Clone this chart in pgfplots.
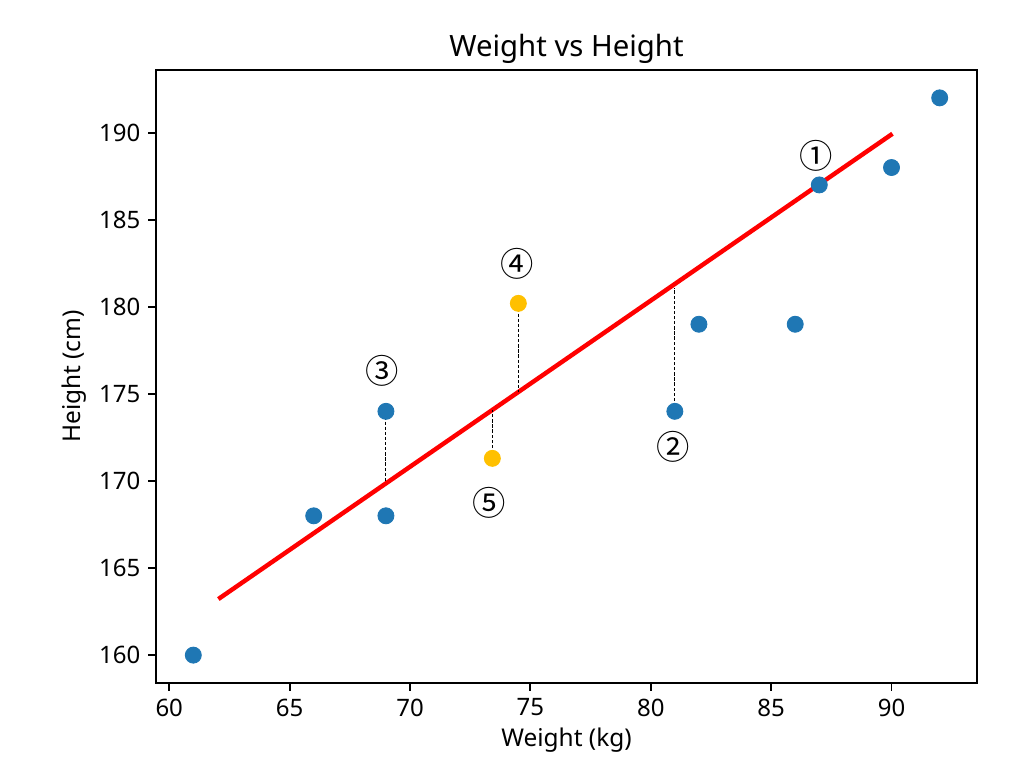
\documentclass[border=0pt]{standalone}
\usepackage{fontspec}
\setmainfont{Noto Sans}
\newfontfamily\symfont{Noto Sans CJK JP}
\usepackage{pgfplots}
\pgfplotsset{compat=1.18}

\definecolor{mplblue}{HTML}{1F77B4}
\definecolor{ambr}{HTML}{FFC000}

\begin{document}
\begin{tikzpicture}
\useasboundingbox (-70.2pt,-37.8pt) rectangle (390.6pt,307.35pt);
\begin{axis}[
    at={(0,0)}, anchor=south west,
    scale only axis,
    width=369.45pt, height=275.85pt,
    xmin=59.45, xmax=93.55,
    ymin=158.4, ymax=193.6,
    xtick={60,65,...,90},
    ytick={160,165,...,190},
    tick align=outside,
    tick pos=left,
    major tick length=3.5pt,
    every tick/.style={black, line width=0.8pt},
    axis line style={line width=0.8pt},
    tick label style={font=\fontsize{10.8}{13}\selectfont},
    /pgf/number format/assume math mode=true,
    clip=false,
]
  % data points
  \addplot[only marks, mark=*, mark size=3.6pt, mplblue, mark options={draw=mplblue, fill=mplblue}]
    coordinates {(61,160) (66,168) (69,174) (69,168) (81,174) (82,179) (86,179) (87,187) (90,188) (92,192)};
  \addplot[only marks, mark=*, mark size=3.6pt, ambr, mark options={draw=ambr, fill=ambr}]
    coordinates {(74.5,180.2) (73.42,171.3)};

  % fitted line
  \addplot[red, line width=2pt] coordinates {(62.04,163.22) (90.04,189.94)};

  % residuals
  \addplot[black, line width=0.5pt, dash pattern=on 1.5pt off 0.8pt]
    coordinates {(69,174) (69,169.9)};
  \addplot[black, line width=0.5pt, dash pattern=on 1.5pt off 0.8pt]
    coordinates {(81,174) (81,181.1)};
  \addplot[black, line width=0.5pt, dash pattern=on 1.5pt off 0.8pt]
    coordinates {(74.5,180.2) (74.5,175.1)};
  \addplot[black, line width=0.5pt, dash pattern=on 1.5pt off 0.8pt]
    coordinates {(73.42,171.3) (73.42,174.1)};

  % labels
  \begin{scope}[every node/.style={font=\symfont\fontsize{15}{18}\selectfont, inner sep=0pt}]
    \node at (axis cs:86.875,188.68) {①};
    \node at (axis cs:80.92,171.95) {②};
    \node at (axis cs:68.83,176.32) {③};
    \node at (axis cs:74.46,182.47) {④};
    \node at (axis cs:73.29,168.74) {⑤};
  \end{scope}

  \node[font=\fontsize{13.2}{16}\selectfont] at (rel axis cs:0.5,1) [yshift=9.6pt] {Weight vs Height};
  \node[font=\fontsize{11}{13}\selectfont] at (rel axis cs:0.5,0) [yshift=-25.65pt] {Weight (kg)};
  \node[font=\fontsize{11}{13}\selectfont, xshift=-37pt, rotate=90] at (rel axis cs:0,0.5) {Height (cm)};
\end{axis}
\end{tikzpicture}
\end{document}
